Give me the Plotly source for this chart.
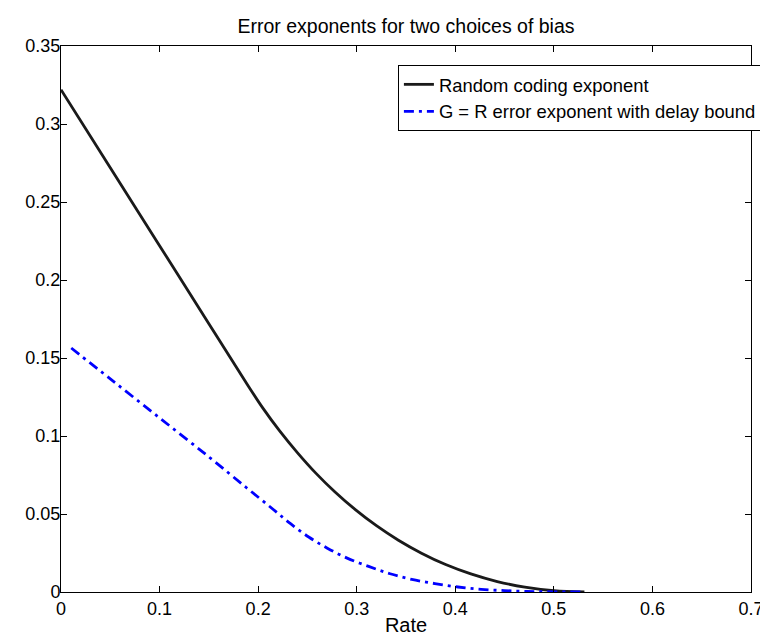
import plotly.graph_objects as go

# Random coding exponent (black, solid)
rate_rc = [0.0, 0.05, 0.10, 0.15, 0.189, 0.205, 0.222, 0.240, 0.2585, 0.278, 0.2986,
           0.320, 0.3423, 0.3657, 0.3902, 0.4158, 0.4426, 0.4706, 0.500, 0.531]
exp_rc = [0.322, 0.272, 0.222, 0.172, 0.133, 0.1177, 0.1031, 0.0892, 0.0762, 0.0641, 0.0528,
          0.0425, 0.0332, 0.0249, 0.0176, 0.0116, 0.0067, 0.0031, 0.0008, 0.0]

# G = R error exponent with delay bound (blue, dash-dot)
rate_gr = [0.0104, 0.05, 0.10, 0.15, 0.1879, 0.2148, 0.2332, 0.2517, 0.2702, 0.2903,
           0.3121, 0.3339, 0.3558, 0.3793, 0.4027, 0.4263, 0.4498, 0.473, 0.50, 0.53]
exp_gr = [0.1564, 0.1366, 0.1116, 0.0866, 0.0670, 0.0532, 0.0436, 0.0351, 0.0281, 0.0217,
          0.0164, 0.0117, 0.0081, 0.0054, 0.0032, 0.0017, 0.0009, 0.0004, 0.0001, 0.0]

x_ticks = [0, 0.1, 0.2, 0.3, 0.4, 0.5, 0.6, 0.7]
y_ticks = [0, 0.05, 0.1, 0.15, 0.2, 0.25, 0.3, 0.35]

FONT = "Liberation Sans, Arial, Helvetica, sans-serif"

fig = go.Figure()
fig.add_trace(go.Scatter(x=rate_rc, y=exp_rc, mode="lines", name="Random coding exponent",
                         line=dict(color="#1a1a1a", width=2.8), line_shape="spline"))
fig.add_trace(go.Scatter(x=rate_gr, y=exp_gr, mode="lines",
                         name="G = R error exponent with delay bound",
                         line=dict(color="#0000ff", width=2.8, dash="10px,5px,3px,5px"),
                         line_shape="spline"))

axis_common = dict(showline=True, linecolor="black", linewidth=1, mirror="ticks",
                   ticks="inside", ticklen=6, tickcolor="black", showgrid=False,
                   zeroline=False, tickfont=dict(family=FONT, size=18, color="black"))

fig.update_layout(
    width=768, height=637,
    margin=dict(l=53, r=19, t=38, b=50),
    paper_bgcolor="white", plot_bgcolor="white",
    font=dict(family=FONT, color="black"),
    title=dict(text="Error exponents for two choices of bias", x=0.5, xref="paper",
               y=1 - 18 / 637, yref="container", yanchor="middle",
               font=dict(family=FONT, size=19.5, color="black")),
    xaxis=dict(range=[0, 0.7], tickvals=x_ticks, ticktext=[f"{v:g}" for v in x_ticks],
               title=dict(text="Rate", font=dict(family=FONT, size=20), standoff=0),
               **axis_common),
    yaxis=dict(range=[0, 0.35], tickvals=y_ticks, ticktext=[f"{v:g}" for v in y_ticks],
               ticklabelstandoff=-4, **axis_common),
    legend=dict(x=(760 - 53) / 696, xanchor="right", y=(587 - 57) / 549, yanchor="top",
                bgcolor="white", bordercolor="black", borderwidth=1,
                font=dict(family=FONT, size=18.4, color="black"),
                tracegroupgap=0, itemwidth=30),
    showlegend=True,
)

fig.write_html("out.html")
